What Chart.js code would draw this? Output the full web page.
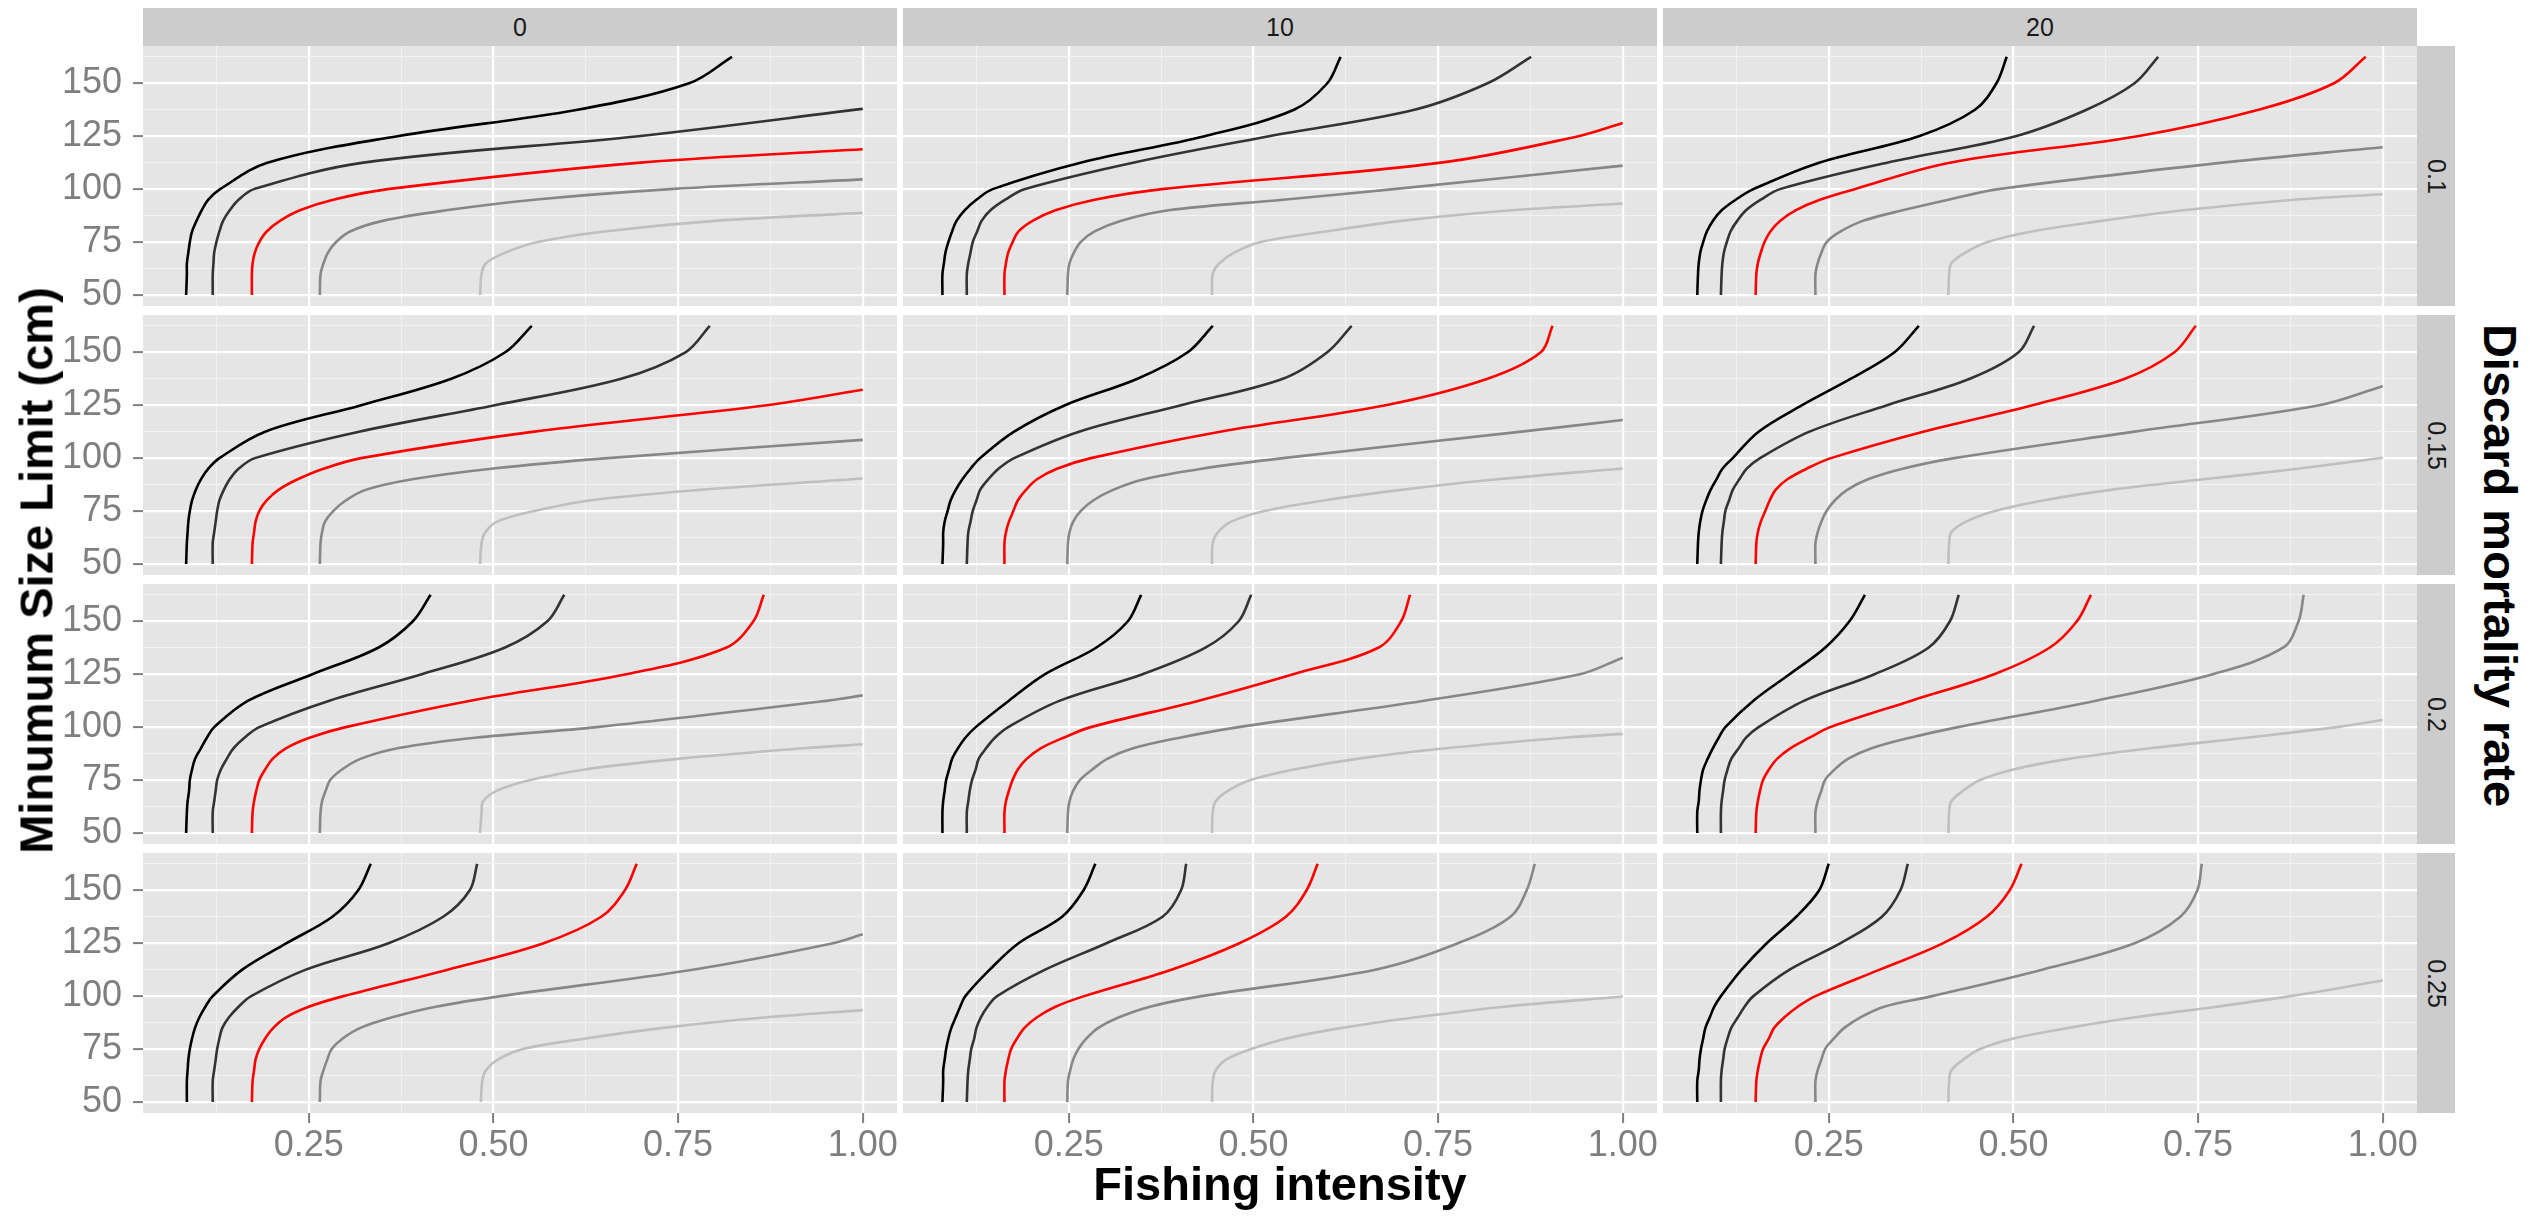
<!DOCTYPE html>
<html>
<head>
<meta charset="utf-8">
<script src="https://cdn.jsdelivr.net/npm/chart.js@4.4.1/dist/chart.umd.min.js"></script>
<style>
body { margin:0; width:2547px; height:1216px; background:#fff; position:relative; overflow:hidden; font-family:"Liberation Sans", Arial, sans-serif; }
canvas { position:absolute; }
.strip { position:absolute; background:#cccccc; color:#1a1a1a; font-size:25px; display:flex; align-items:center; justify-content:center; }
.strip.side span { transform:rotate(90deg); white-space:nowrap; }
.title { position:absolute; font-weight:bold; font-size:47px; line-height:47px; height:47px; color:#000; white-space:nowrap; text-align:center; }
</style>
</head>
<body>
<script>
// facet labels
const columnLabels = ['0', '10', '20']
const rateLabels = ['0.1', '0.15', '0.2', '0.25']

// size limits (cm) where the fishing intensity was read, shared by all curves
const sizeLevels = [50, 60, 65, 70, 75, 80, 85, 90, 95, 100, 112.5, 125, 137.5, 150, 162.5]
const xTickValues = [0.25, 0.5, 0.75, 1.0]
const yTickValues = [50, 75, 100, 125, 150]

// each panel: black, dark grey, red, grey, light grey curves (fishing intensity at sizeLevels)
// *_end: size limit where a curve runs into intensity 1.0 (null = reaches the top)
const rate10_col0 = [
    [0.084, 0.085, 0.085, 0.087, 0.089, 0.092, 0.098, 0.105, 0.114, 0.130, 0.194, 0.370, 0.614, 0.765, 0.823],
    [0.120, 0.120, 0.121, 0.122, 0.125, 0.129, 0.134, 0.143, 0.155, 0.176, 0.324, 0.696],
    [0.173, 0.173, 0.174, 0.177, 0.183, 0.193, 0.211, 0.238, 0.283, 0.357, 0.699],
    [0.265, 0.266, 0.270, 0.276, 0.287, 0.306, 0.350, 0.436, 0.555, 0.740],
    [0.482, 0.484, 0.490, 0.516, 0.560, 0.650, 0.800]
]
const rate10_col0_end = [null, 137.9, 118.8, 104.6, 88.8]

const rate10_col10 = [
    [0.079, 0.079, 0.081, 0.083, 0.087, 0.092, 0.098, 0.109, 0.125, 0.147, 0.266, 0.434, 0.555, 0.600, 0.618],
    [0.112, 0.112, 0.114, 0.117, 0.120, 0.126, 0.132, 0.144, 0.164, 0.190, 0.337, 0.521, 0.718, 0.817, 0.876],
    [0.163, 0.163, 0.165, 0.168, 0.174, 0.182, 0.201, 0.232, 0.285, 0.376, 0.754, 0.940],
    [0.248, 0.249, 0.251, 0.257, 0.266, 0.285, 0.320, 0.385, 0.540, 0.690],
    [0.444, 0.445, 0.454, 0.474, 0.510, 0.598, 0.700, 0.850]
]
const rate10_col10_end = [null, null, 131.2, 111.1, 93.2]

const rate10_col20 = [
    [0.072, 0.073, 0.074, 0.076, 0.080, 0.085, 0.093, 0.105, 0.124, 0.148, 0.237, 0.372, 0.448, 0.477, 0.491],
    [0.104, 0.105, 0.106, 0.108, 0.112, 0.117, 0.126, 0.138, 0.158, 0.184, 0.329, 0.503, 0.599, 0.664, 0.696],
    [0.151, 0.152, 0.154, 0.158, 0.163, 0.171, 0.184, 0.205, 0.238, 0.285, 0.414, 0.668, 0.832, 0.934, 0.977],
    [0.232, 0.232, 0.235, 0.240, 0.247, 0.266, 0.296, 0.350, 0.412, 0.480, 0.783],
    [0.412, 0.413, 0.416, 0.435, 0.465, 0.525, 0.620, 0.730, 0.880]
]
const rate10_col20_end = [null, null, null, 119.8, 97.6]

const rate15_col0 = [
    [0.084, 0.085, 0.086, 0.087, 0.089, 0.092, 0.097, 0.104, 0.114, 0.129, 0.191, 0.321, 0.443, 0.516, 0.552],
    [0.120, 0.120, 0.122, 0.124, 0.126, 0.129, 0.135, 0.143, 0.155, 0.177, 0.318, 0.502, 0.673, 0.760, 0.793],
    [0.173, 0.174, 0.176, 0.178, 0.183, 0.193, 0.209, 0.235, 0.270, 0.321, 0.555, 0.870],
    [0.265, 0.266, 0.268, 0.272, 0.283, 0.300, 0.327, 0.390, 0.497, 0.655],
    [0.482, 0.484, 0.489, 0.505, 0.555, 0.630, 0.780]
]
const rate15_col0_end = [null, null, 132.3, 108.6, 90.4]

const rate15_col10 = [
    [0.079, 0.080, 0.080, 0.082, 0.086, 0.090, 0.097, 0.106, 0.117, 0.130, 0.176, 0.245, 0.343, 0.411, 0.445],
    [0.112, 0.113, 0.114, 0.117, 0.120, 0.125, 0.130, 0.141, 0.155, 0.176, 0.264, 0.402, 0.540, 0.600, 0.633],
    [0.163, 0.163, 0.165, 0.169, 0.175, 0.181, 0.192, 0.207, 0.234, 0.280, 0.455, 0.679, 0.817, 0.889, 0.905],
    [0.248, 0.249, 0.251, 0.256, 0.266, 0.283, 0.310, 0.352, 0.430, 0.540, 0.863],
    [0.444, 0.445, 0.452, 0.470, 0.515, 0.595, 0.700, 0.830]
]
const rate15_col10_end = [null, null, null, 118.0, 95.1]

const rate15_col20 = [
    [0.072, 0.073, 0.074, 0.076, 0.079, 0.084, 0.090, 0.098, 0.106, 0.120, 0.155, 0.214, 0.280, 0.339, 0.372],
    [0.104, 0.105, 0.106, 0.108, 0.110, 0.115, 0.120, 0.129, 0.139, 0.157, 0.224, 0.329, 0.441, 0.507, 0.528],
    [0.151, 0.152, 0.154, 0.158, 0.164, 0.170, 0.178, 0.194, 0.220, 0.253, 0.378, 0.526, 0.651, 0.718, 0.747],
    [0.232, 0.232, 0.235, 0.240, 0.247, 0.258, 0.275, 0.303, 0.350, 0.420, 0.664, 0.914],
    [0.412, 0.413, 0.416, 0.436, 0.475, 0.540, 0.632, 0.757, 0.885]
]
const rate15_col20_end = [null, null, null, 134.0, 100.2]

const rate20_col0 = [
    [0.084, 0.085, 0.086, 0.088, 0.089, 0.092, 0.096, 0.104, 0.112, 0.122, 0.168, 0.255, 0.344, 0.391, 0.415],
    [0.120, 0.120, 0.122, 0.124, 0.126, 0.131, 0.139, 0.148, 0.163, 0.183, 0.278, 0.403, 0.515, 0.573, 0.596],
    [0.173, 0.174, 0.176, 0.179, 0.183, 0.191, 0.201, 0.219, 0.251, 0.300, 0.469, 0.680, 0.815, 0.852, 0.866],
    [0.265, 0.266, 0.268, 0.273, 0.279, 0.295, 0.320, 0.370, 0.475, 0.640, 0.953],
    [0.482, 0.484, 0.486, 0.505, 0.550, 0.624, 0.750, 0.920]
]
const rate20_col0_end = [null, null, null, 115.0, 91.9]

const rate20_col10 = [
    [0.079, 0.079, 0.080, 0.082, 0.084, 0.088, 0.092, 0.100, 0.110, 0.124, 0.169, 0.218, 0.287, 0.330, 0.348],
    [0.112, 0.112, 0.114, 0.116, 0.119, 0.124, 0.128, 0.138, 0.150, 0.168, 0.238, 0.350, 0.435, 0.480, 0.497],
    [0.163, 0.163, 0.165, 0.169, 0.174, 0.181, 0.193, 0.212, 0.243, 0.280, 0.426, 0.554, 0.669, 0.700, 0.712],
    [0.248, 0.249, 0.251, 0.256, 0.265, 0.282, 0.302, 0.337, 0.400, 0.480, 0.731, 0.942],
    [0.444, 0.445, 0.449, 0.466, 0.496, 0.555, 0.640, 0.760, 0.920]
]
const rate20_col10_end = [null, null, null, 132.8, 96.8]

const rate20_col20 = [
    [0.072, 0.072, 0.074, 0.075, 0.077, 0.080, 0.086, 0.093, 0.101, 0.110, 0.148, 0.197, 0.245, 0.278, 0.299],
    [0.104, 0.104, 0.105, 0.107, 0.109, 0.113, 0.118, 0.128, 0.138, 0.155, 0.217, 0.312, 0.385, 0.414, 0.426],
    [0.151, 0.152, 0.154, 0.157, 0.161, 0.169, 0.180, 0.198, 0.224, 0.252, 0.362, 0.474, 0.549, 0.586, 0.605],
    [0.232, 0.232, 0.235, 0.240, 0.245, 0.258, 0.276, 0.308, 0.360, 0.425, 0.612, 0.770, 0.865, 0.886, 0.893],
    [0.412, 0.413, 0.416, 0.432, 0.455, 0.500, 0.575, 0.685, 0.815, 0.938]
]
const rate20_col20_end = [null, null, null, null, 103.4]

const rate25_col0 = [
    [0.085, 0.085, 0.086, 0.087, 0.089, 0.092, 0.096, 0.102, 0.110, 0.120, 0.160, 0.220, 0.282, 0.317, 0.334],
    [0.120, 0.120, 0.122, 0.124, 0.126, 0.129, 0.133, 0.142, 0.155, 0.172, 0.246, 0.358, 0.432, 0.468, 0.478],
    [0.173, 0.174, 0.176, 0.178, 0.183, 0.191, 0.202, 0.219, 0.250, 0.297, 0.438, 0.568, 0.646, 0.678, 0.694],
    [0.265, 0.266, 0.270, 0.275, 0.281, 0.296, 0.320, 0.363, 0.422, 0.510, 0.770, 0.960],
    [0.483, 0.485, 0.490, 0.506, 0.540, 0.625, 0.730, 0.870]
]
const rate25_col0_end = [null, null, null, 129.2, 93.4]

const rate25_col10 = [
    [0.079, 0.080, 0.080, 0.082, 0.084, 0.087, 0.091, 0.097, 0.103, 0.110, 0.143, 0.182, 0.241, 0.270, 0.286],
    [0.112, 0.113, 0.114, 0.116, 0.118, 0.122, 0.125, 0.131, 0.140, 0.153, 0.218, 0.301, 0.377, 0.402, 0.409],
    [0.163, 0.163, 0.165, 0.168, 0.172, 0.180, 0.190, 0.207, 0.232, 0.271, 0.389, 0.481, 0.544, 0.572, 0.587],
    [0.248, 0.249, 0.252, 0.256, 0.263, 0.274, 0.290, 0.318, 0.360, 0.430, 0.665, 0.777, 0.848, 0.870, 0.881],
    [0.444, 0.445, 0.449, 0.463, 0.497, 0.545, 0.620, 0.720, 0.840]
]
const rate25_col10_end = [null, null, null, null, 99.8]

const rate25_col20 = [
    [0.072, 0.072, 0.074, 0.075, 0.077, 0.080, 0.083, 0.089, 0.095, 0.104, 0.132, 0.166, 0.206, 0.237, 0.250],
    [0.104, 0.104, 0.105, 0.107, 0.109, 0.113, 0.118, 0.127, 0.136, 0.148, 0.197, 0.266, 0.322, 0.347, 0.357],
    [0.151, 0.152, 0.154, 0.157, 0.161, 0.169, 0.176, 0.190, 0.208, 0.232, 0.319, 0.405, 0.464, 0.495, 0.511],
    [0.232, 0.232, 0.235, 0.240, 0.245, 0.257, 0.271, 0.293, 0.325, 0.390, 0.539, 0.664, 0.726, 0.749, 0.755],
    [0.412, 0.413, 0.416, 0.432, 0.455, 0.500, 0.575, 0.665, 0.775, 0.875]
]
const rate25_col20_end = [null, null, null, null, 107.4]

const panelCurves = [
    [rate10_col0, rate10_col10, rate10_col20],
    [rate15_col0, rate15_col10, rate15_col20],
    [rate20_col0, rate20_col10, rate20_col20],
    [rate25_col0, rate25_col10, rate25_col20]
]
const panelEnds = [
    [rate10_col0_end, rate10_col10_end, rate10_col20_end],
    [rate15_col0_end, rate15_col10_end, rate15_col20_end],
    [rate20_col0_end, rate20_col10_end, rate20_col20_end],
    [rate25_col0_end, rate25_col10_end, rate25_col20_end]
]

const lineColors = ['#000000', '#333333', '#ff0000', '#878787', '#bfbfbf']

// page layout
const colLeft = [143, 903, 1663]
const rowTop = [46, 315, 584, 853]
const panelW = 754, panelH = 260
const yAxisW = 143, xAxisH = 62, extra = 22
const xMin = 0.0256, xMax = 1.0464, yMin = 44.8, yMax = 167.6

Chart.defaults.font.family = '"Liberation Sans", Arial, sans-serif'

const panelBg = {
    id: 'panelBg',
    beforeDraw(chart) {
        const a = chart.chartArea
        chart.ctx.save()
        chart.ctx.fillStyle = '#e5e5e5'
        chart.ctx.fillRect(a.left, a.top, a.right - a.left, a.bottom - a.top)
        chart.ctx.restore()
    }
}

function curvePoints(xs, end) {
    const pts = xs.map((x, i) => ({x: x, y: sizeLevels[i]}))
    if (end != null) pts.push({x: 1, y: end})
    return pts
}

function isMajor(v, majors) {
    return majors.some(m => Math.abs(m - v) < 1e-9)
}

function gridFor(majors, showTicks) {
    return {
        color: c => isMajor(c.tick.value, majors) ? '#ffffff' : '#f2f2f2',
        lineWidth: c => isMajor(c.tick.value, majors) ? 2.2 : 1,
        tickColor: c => isMajor(c.tick.value, majors) ? '#7f7f7f' : 'rgba(0,0,0,0)',
        tickWidth: 2,
        tickLength: 10,
        drawTicks: showTicks
    }
}

function makePanel(r, c) {
    const isLeft = c === 0
    const isBottom = r === rateLabels.length - 1
    const padL = isLeft ? yAxisW : 0
    const padB = isBottom ? xAxisH : 0
    const cv = document.createElement('canvas')
    cv.width = padL + panelW + extra
    cv.height = extra + panelH + padB + extra
    cv.style.width = cv.width + 'px'
    cv.style.height = cv.height + 'px'
    cv.style.left = (colLeft[c] - padL) + 'px'
    cv.style.top = (rowTop[r] - extra) + 'px'
    document.body.appendChild(cv)

    const xGrid = [0.125, 0.25, 0.375, 0.5, 0.625, 0.75, 0.875, 1.0]
    const yGrid = [50, 62.5, 75, 87.5, 100, 112.5, 125, 137.5, 150, 162.5]

    new Chart(cv, {
        type: 'line',
        data: {
            datasets: panelCurves[r][c].map((xs, k) => ({
                data: curvePoints(xs, panelEnds[r][c][k]),
                borderColor: lineColors[k],
                borderWidth: 2.6,
                pointRadius: 0,
                fill: false,
                tension: 0.35
            }))
        },
        options: {
            indexAxis: 'y',
            responsive: false,
            animation: false,
            devicePixelRatio: 1,
            events: [],
            layout: {padding: {top: extra, bottom: extra, left: 0, right: extra}},
            plugins: {legend: {display: false}, tooltip: {enabled: false}},
            scales: {
                x: {
                    type: 'linear', position: 'bottom', min: xMin, max: xMax,
                    afterBuildTicks: s => { s.ticks = xGrid.map(v => ({value: v})) },
                    afterFit: s => { s.height = padB; s.paddingLeft = 0; s.paddingRight = 0; s.paddingTop = 0; s.paddingBottom = 0 },
                    grid: gridFor(xTickValues, isBottom),
                    border: {display: false},
                    ticks: {
                        display: isBottom, autoSkip: false, maxRotation: 0, padding: 1,
                        color: '#7f7f7f', font: {size: 36},
                        callback: v => isMajor(v, xTickValues) ? v.toFixed(2) : ''
                    }
                },
                y: {
                    type: 'linear', position: 'left', min: yMin, max: yMax,
                    afterBuildTicks: s => { s.ticks = yGrid.map(v => ({value: v})) },
                    afterFit: s => { s.width = padL; s.paddingLeft = 0; s.paddingRight = 0; s.paddingTop = 0; s.paddingBottom = 0 },
                    grid: gridFor(yTickValues, isLeft),
                    border: {display: false},
                    ticks: {
                        display: isLeft, autoSkip: false, padding: 11,
                        color: '#7f7f7f', font: {size: 36},
                        callback: v => isMajor(v, yTickValues) ? String(v) : ''
                    }
                }
            }
        },
        plugins: [panelBg]
    })
}

function addDiv(cls, text, css) {
    const d = document.createElement('div')
    d.className = cls
    d.innerHTML = text
    Object.assign(d.style, css)
    document.body.appendChild(d)
    return d
}

// top strips
columnLabels.forEach((lab, c) => {
    addDiv('strip', lab, {left: colLeft[c] + 'px', top: '8px', width: panelW + 'px', height: '38px'})
})
// side strips
rateLabels.forEach((lab, r) => {
    addDiv('strip side', '<span>' + lab + '</span>', {left: '2417px', top: rowTop[r] + 'px', width: '38px', height: panelH + 'px'})
})

for (let r = 0; r < rateLabels.length; r++) {
    for (let c = 0; c < columnLabels.length; c++) makePanel(r, c)
}

// axis titles
addDiv('title', 'Fishing intensity', {left: '143px', width: '2274px', top: '1160px'})
addDiv('title', 'Minumum Size Limit (cm)', {left: (36 - 550) + 'px', width: '1100px', top: (570 - 23.5) + 'px', transform: 'rotate(-90deg)'})
addDiv('title', 'Discard mortality rate', {left: (2500 - 550) + 'px', width: '1100px', top: (565 - 23.5) + 'px', transform: 'rotate(90deg)'})
</script>
</body>
</html>
